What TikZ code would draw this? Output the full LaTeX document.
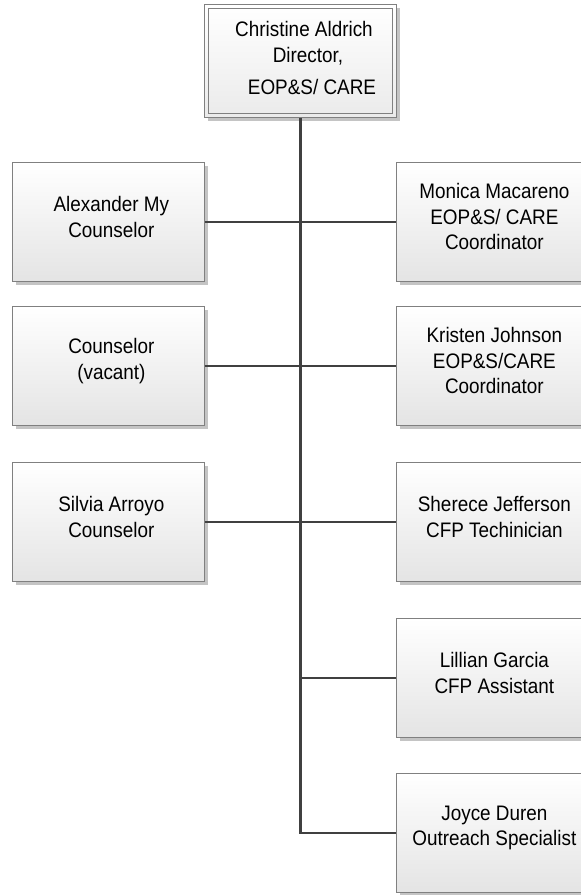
\documentclass[tikz,border=0pt]{standalone}
\usepackage{fontspec}
\setmainfont{Liberation Sans}[FakeStretch=0.9]
\usetikzlibrary{shadows}
\definecolor{bordergray}{HTML}{808080}
\definecolor{shadowgray}{HTML}{C4C4C4}
\definecolor{linegray}{HTML}{404040}
\definecolor{boxbottom}{HTML}{E4E4E4}
\begin{document}
\begin{tikzpicture}[x=1pt,y=-1pt,
  orgbox/.style={draw=bordergray, line width=0.8pt, top color=white, bottom color=boxbottom,
    minimum width=192pt, minimum height=119pt, anchor=north west, inner sep=0pt,
    drop shadow={shadow xshift=4pt, shadow yshift=-4pt, fill=shadowgray, opacity=1}},
  orgtext/.style={align=center, font=\fontsize{21}{25.5}\selectfont, inner sep=0pt, text=black},
  conn/.style={draw=linegray, line width=2.7pt}]
\useasboundingbox (0,0) rectangle (581,895);

% director box
\node[orgbox, minimum height=113pt, top color=white, bottom color=white!92!black] (dir) at (204,4) {};
\draw[bordergray, line width=0.8pt] ([shift={(4,4)}]dir.north west) rectangle ([shift={(-4,-4)}]dir.south east);
\node[orgtext] (dirt) at (304,58) {Christine Aldrich\\\hspace*{8pt}Director,\\[7pt]\hspace*{16pt}EOP\&S/ CARE};

% left boxes
\node[orgbox] (l1) at (12,162) {};
\node[orgbox] (l2) at (12,306) {};
\node[orgbox] (l3) at (12,462) {};
% right boxes
\node[orgbox] (r1) at (396,162) {};
\node[orgbox] (r2) at (396,306) {};
\node[orgbox] (r3) at (396,462) {};
\node[orgbox] (r4) at (396,618) {};
\node[orgbox] (r5) at (396,773) {};

% connectors
\draw[conn] (dir.south) |- (r5.west);
\draw[conn] (l1.east) -- (r1.west);
\draw[conn] (l2.east) -- (r2.west);
\draw[conn] (l3.east) -- (r3.west);
\draw[conn] (dir.south |- r4.west) -- (r4.west);

% texts
\node[orgtext] (l1t) at ([xshift=3pt,yshift=5pt]l1.center) {Alexander My\\Counselor};
\node[orgtext] (l2t) at ([xshift=3pt,yshift=5pt]l2.center) {Counselor\\(vacant)};
\node[orgtext] (l3t) at ([xshift=3pt,yshift=5pt]l3.center) {Silvia Arroyo\\Counselor};
\node[orgtext] (r1t) at ([xshift=2pt,yshift=5pt]r1.center) {Monica Macareno\\EOP\&S/ CARE\\Coordinator};
\node[orgtext] (r2t) at ([xshift=2pt,yshift=5pt]r2.center) {Kristen Johnson\\EOP\&S/CARE\\Coordinator};
\node[orgtext] (r3t) at ([xshift=2pt,yshift=5pt]r3.center) {Sherece Jefferson\\CFP Techinician};
\node[orgtext] (r4t) at ([xshift=2pt,yshift=5pt]r4.center) {Lillian Garcia\\CFP Assistant};
\node[orgtext] (r5t) at ([xshift=2pt,yshift=5pt]r5.center) {Joyce Duren\\Outreach Specialist};
\end{tikzpicture}
\end{document}
